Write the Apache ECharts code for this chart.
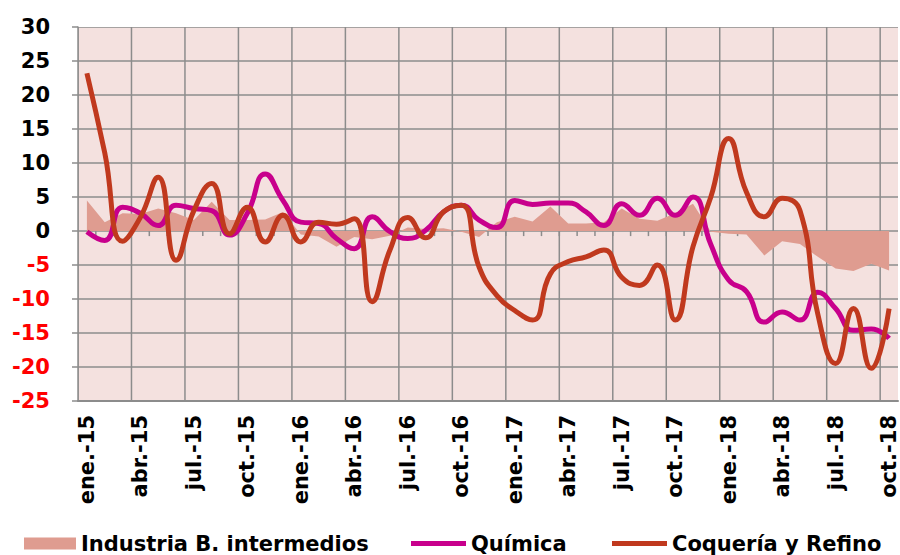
<!DOCTYPE html>
<html>
<head>
<meta charset="utf-8">
<script src="https://cdn.jsdelivr.net/npm/echarts@6/dist/echarts.min.js"></script>
<style>
  html, body { margin: 0; padding: 0; background: #fff; }
  #main { width: 900px; height: 555px; }
</style>
</head>
<body>
<div id="main"></div>
<script>
const months = ['ene.', 'feb.', 'mar.', 'abr.', 'may.', 'jun.', 'jul.', 'ago.', 'sep.', 'oct.', 'nov.', 'dic.'];
const categories = [];
for (let y = 15; y <= 18; y++) {
  for (let m = 0; m < 12; m++) {
    if (y === 18 && m > 9) break;
    categories.push(months[m] + '-' + y);
  }
}

const industria = [4.5, 1.3, 2.6, 2.5, 3.3, 2.6, 1.6, 4.3, 1.6, 1.6, 1.7, 2.8,
  -0.5, -0.8, -2.3, -0.9, -1.2, -0.7, 0.5, 0.3, 0.4, -0.1, -0.9, 1.3,
  2.1, 1.4, 3.6, 1.1, 1.1, 1.3, 3.3, 1.8, 1.5, 2.6, 4.0, -0.1,
  -0.4, -0.5, -3.6, -1.5, -1.9, -3.8, -5.5, -5.9, -4.8, -5.8];

const quimica = [-0.1, -1.4, 3.5, 2.6, 0.8, 3.8, 3.3, 3.0, -0.6, 2.6, 8.4, 4.5,
  1.3, 1.1, -1.1, -2.6, 2.1, -0.1, -1.1, 0.1, 2.8, 3.8, 1.6, 0.5,
  4.5, 3.9, 4.1, 4.1, 2.8, 0.8, 4.0, 2.3, 4.8, 2.3, 5.0, -2.0,
  -7.2, -8.9, -13.4, -11.9, -13.1, -9.0, -11.4, -14.6, -14.4, -15.8];

const coqueria = [23.2, 11.5, -1.5, 2.0, 7.9, -4.3, 3.0, 7.0, -0.4, 3.5, -1.6, 2.3,
  -1.6, 1.3, 1.0, 1.8, -10.4, -2.8, 2.0, -1.0, 2.8, 3.8, -5.3, -9.5,
  -11.7, -13.1, -6.3, -4.5, -3.8, -2.8, -6.8, -8.0, -5.0, -13.1, -2.3, 5.0,
  13.6, 5.7, 2.1, 4.8, 3.0, -12.2, -19.5, -11.4, -20.2, -11.4];

const yMin = -25;
const yMax = 30;
const yStep = 5;

const chartDom = document.getElementById('main');
const myChart = echarts.init(chartDom, null, { renderer: 'svg' });

const font = 'DejaVu Sans';
const gridColor = '#8c8c8c';
const plotBg = '#f4e1df';

const legendText = { fontFamily: font, fontWeight: 'bold', fontSize: 21, color: '#000' };

// background plus thin grid bands (about 1.5px wide), all drawn as mark areas
const halfY = 0.11;   // in y units
const halfX = 0.042;  // in month units
const gridStyle = { color: gridColor, opacity: 1 };
const bgAreas = [[{ yAxis: yMin, itemStyle: { color: plotBg, opacity: 1 } }, { yAxis: yMax }]];
for (let v = yMin + yStep; v <= yMax; v += yStep) {
  bgAreas.push([{ yAxis: v - halfY, itemStyle: gridStyle }, { yAxis: Math.min(v + halfY, yMax) }]);
}
for (let i = 0; i < categories.length; i += 3) {
  bgAreas.push([{ xAxis: Math.max(i - halfX, 0), itemStyle: gridStyle }, { xAxis: i + halfX }]);
}
// little ticks under the zero line at each month boundary
for (let i = 1; i < categories.length; i++) {
  bgAreas.push([{ coord: [i - halfX, 0], itemStyle: gridStyle }, { coord: [i + halfX, -0.75] }]);
}

const option = {
  animation: false,
  grid: {
    left: 78, right: 2, top: 27, bottom: 154
  },
  legend: [
    {
      data: ['Industria B. intermedios'],
      left: 19, top: 528,
      icon: 'rect', itemWidth: 52, itemHeight: 12,
      textStyle: legendText
    },
    {
      data: ['Química'],
      left: 406, top: 528,
      icon: 'rect', itemWidth: 55, itemHeight: 5,
      textStyle: legendText
    },
    {
      data: ['Coquería y Refino'],
      left: 607, top: 528,
      icon: 'rect', itemWidth: 55, itemHeight: 5,
      textStyle: legendText
    }
  ],
  xAxis: [
    {
      type: 'category',
      data: categories,
      z: 2,
      axisLine: { show: true, onZero: false, lineStyle: { color: gridColor, width: 2 } },
      axisTick: { show: false },
      axisLabel: {
        interval: 2, rotate: 90, margin: 14,
        fontFamily: font, fontWeight: 'bold', fontSize: 21, color: '#000'
      },
      splitLine: { show: false }
    },
    {
      type: 'value',
      min: 0, max: categories.length,
      show: false
    }
  ],
  yAxis: {
    type: 'value',
    min: yMin, max: yMax, interval: yStep,
    z: 2,
    axisLine: { show: true, lineStyle: { color: gridColor, width: 1.5 } },
    axisTick: { show: true, length: 6, lineStyle: { color: gridColor, width: 1.5 } },
    axisLabel: {
      margin: 28,
      fontFamily: font, fontWeight: 'bold', fontSize: 21,
      color: function (value) { return Number(value) < 0 ? '#ff0000' : '#000'; }
    },
    splitLine: { show: false }
  },
  series: [
    {
      // plot background and grid
      type: 'line',
      xAxisIndex: 1,
      data: [],
      silent: true,
      z: 1,
      markArea: {
        silent: true,
        z: 1,
        data: bgAreas
      }
    },
    {
      name: 'Industria B. intermedios',
      type: 'line',
      z: 3,
      data: industria,
      symbol: 'none',
      lineStyle: { width: 0 },
      itemStyle: { color: '#df9c90' },
      areaStyle: { color: '#df9c90', opacity: 1 }
    },
    {
      name: 'Química',
      type: 'line',
      z: 4,
      data: quimica,
      smooth: true,
      symbol: 'none',
      lineStyle: { width: 5, color: '#c8008c' },
      itemStyle: { color: '#c8008c' }
    },
    {
      name: 'Coquería y Refino',
      type: 'line',
      z: 5,
      data: coqueria,
      smooth: true,
      symbol: 'none',
      lineStyle: { width: 5, color: '#c0391e' },
      itemStyle: { color: '#c0391e' }
    }
  ]
};

myChart.setOption(option);
</script>
</body>
</html>
